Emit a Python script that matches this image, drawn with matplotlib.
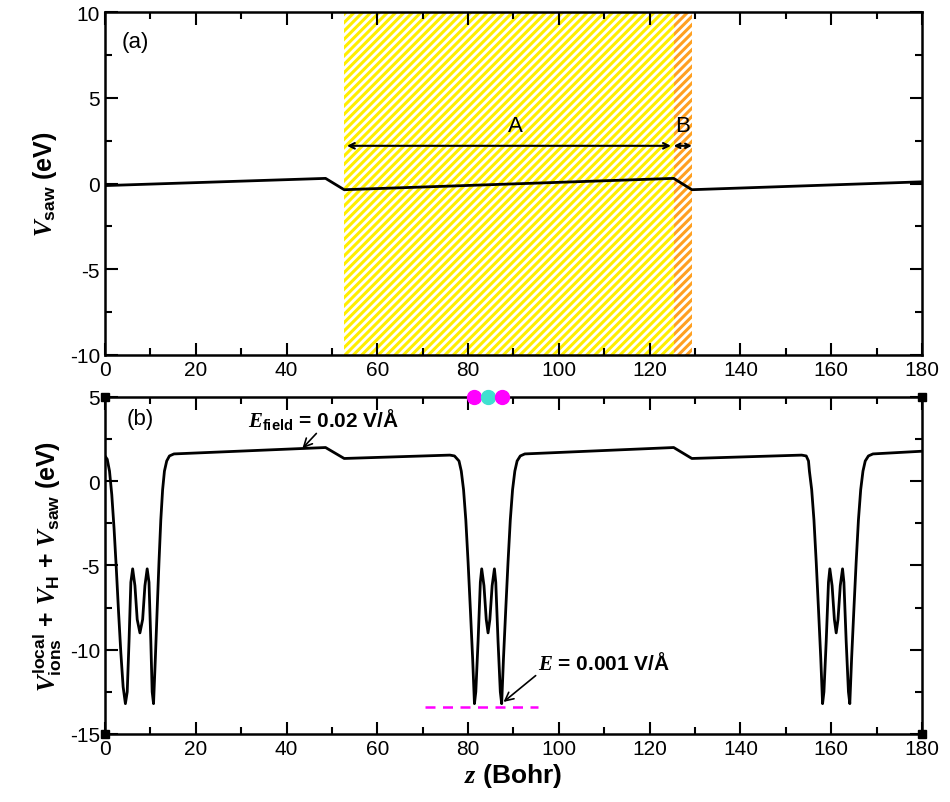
import numpy as np
import matplotlib
matplotlib.use('Agg')
import matplotlib.pyplot as plt
from matplotlib.ticker import MultipleLocator

plt.rcParams['font.family'] = ['Liberation Sans', 'DejaVu Sans']
plt.rcParams['mathtext.fontset'] = 'custom'
plt.rcParams['mathtext.rm'] = 'Liberation Sans:bold'
plt.rcParams['mathtext.bf'] = 'Liberation Sans:bold'
plt.rcParams['mathtext.it'] = 'Liberation Serif:italic:bold'
plt.rcParams['axes.unicode_minus'] = False
plt.rcParams['hatch.linewidth'] = 2.2

# ---- panel (a): sawtooth potential ----
saw_z = [0, 48.6, 52.7, 125.3, 129.3, 180]
saw_v = [-0.12, 0.30, -0.36, 0.30, -0.36, 0.10]

region_a = (52.7, 125.3)
region_b = (125.3, 129.3)

# ---- panel (b): total local potential ----
pot_z = [0, 0.5, 1, 1.5, 2, 2.5, 3, 3.5, 4, 4.5, 4.9, 5.3, 5.7, 6.1, 6.6, 7.1, 7.7,
         8.3, 8.8, 9.3, 9.7, 10.1, 10.4, 10.7, 11.1, 11.5, 11.9, 12.3, 12.7, 13.1,
         13.6, 14.2, 15.2,
         48.6, 52.7, 76, 77, 78, 78.5, 79, 79.5, 80, 80.5, 81, 81.4, 81.7, 82.2, 82.7,
         83.0, 83.5, 84.0, 84.4, 84.8, 85.3, 85.8, 86.1, 86.6, 87.1, 87.4, 87.8, 88.3,
         88.8, 89.3, 89.8, 90.3, 90.8, 91.5, 92.5,
         125.3, 129.3, 153.5, 154.5, 155, 155.2, 155.7, 156.2, 156.7, 157.2, 157.7,
         158.1, 158.4, 158.9, 159.4, 159.7, 160.2, 160.7, 161.1, 161.5, 162.0, 162.5,
         162.8, 163.3, 163.8, 164.1, 164.5, 165.0, 165.5, 166.0, 166.5, 167.0, 167.5,
         168.2, 169.2, 180]
pot_v = [1.5, 1.3, 0.6, -0.8, -2.8, -5.2, -7.8, -10.2, -12.2, -13.2, -12.5, -9.5, -6.0,
         -5.2, -6.2, -8.2, -9.0, -8.2, -6.2, -5.2, -6.0, -9.5, -12.5, -13.2, -10.5, -7.6,
         -4.8, -2.3, -0.5, 0.6, 1.2, 1.5, 1.62,
         2.0, 1.35, 1.55, 1.5, 1.2, 0.6, -0.5, -2.3, -4.8, -7.6, -10.5, -13.2, -12.5, -9.5,
         -6.0, -5.2, -6.2, -8.2, -9.0, -8.2, -6.2, -5.2, -6.0, -9.5, -12.5, -13.2, -10.5,
         -7.6, -4.8, -2.3, -0.5, 0.6, 1.2, 1.5, 1.62,
         2.0, 1.35, 1.55, 1.5, 1.2, 0.6, -0.5, -2.3, -4.8, -7.6, -10.5,
         -13.2, -12.5, -9.5, -6.0, -5.2, -6.2, -8.2, -9.0, -8.2, -6.2, -5.2,
         -6.0, -9.5, -12.5, -13.2, -10.5, -7.6, -4.8, -2.3, -0.5, 0.6, 1.2,
         1.5, 1.62, 1.78]

atom_z = [81.4, 84.4, 87.4]
atom_colors = ['#ff00ff', '#40e0d0', '#ff00ff']

level_z = [70.6, 95.5]
level_v = -13.4


def style_axes(ax, ymin, ymax, ymaj, ymin_step):
    ax.set_xlim(0, 180)
    ax.set_ylim(ymin, ymax)
    ax.xaxis.set_major_locator(MultipleLocator(20))
    ax.xaxis.set_minor_locator(MultipleLocator(10))
    ax.yaxis.set_major_locator(MultipleLocator(ymaj))
    ax.yaxis.set_minor_locator(MultipleLocator(ymin_step))
    ax.tick_params(which='both', direction='in', top=True, right=True,
                   width=1.5, labelsize=15)
    ax.tick_params(which='major', length=9)
    ax.tick_params(which='minor', length=5)
    for s in ax.spines.values():
        s.set_linewidth(1.8)


fig = plt.figure(figsize=(9.5, 8.03), dpi=100)
ax1 = fig.add_axes([0.1105, 0.5567, 0.86, 0.427])
ax2 = fig.add_axes([0.1105, 0.0847, 0.86, 0.4197])

# panel (a)
ax1.axvspan(*region_a, facecolor='white', edgecolor='#ffee00', hatch='////', lw=0, zorder=0)
ax1.axvspan(*region_b, facecolor='white', edgecolor='#ffa020', hatch='////', lw=0, zorder=0)
ax1.plot(saw_z, saw_v, color='black', lw=2)
ax1.annotate('', xy=(region_a[0], 2.2), xytext=(region_a[1], 2.2),
             arrowprops=dict(arrowstyle='<->', color='black', lw=1.5))
ax1.annotate('', xy=(region_b[0], 2.2), xytext=(region_b[1], 2.2),
             arrowprops=dict(arrowstyle='<->', color='black', lw=1.5,
                             shrinkA=0, shrinkB=0, mutation_scale=8))
ax1.text(90.4, 3.4, 'A', fontsize=16, ha='center', va='center')
ax1.text(127.3, 3.4, 'B', fontsize=16, ha='center', va='center')
ax1.text(3.7, 8.3, '(a)', fontsize=16, ha='left', va='center')
style_axes(ax1, -10, 10, 5, 2.5)
ax1.set_ylabel(r'$V_{\rm saw}$ (eV)', fontsize=18, fontweight='bold', labelpad=8)

# panel (b)
ax2.plot(pot_z, pot_v, color='black', lw=2)
ax2.plot(level_z, [level_v, level_v], color='#ff00ff', lw=1.8, ls=(0, (4, 3)))
for i, (z, c) in enumerate(zip(atom_z, atom_colors)):
    ax2.plot([z], [5], 'o', color=c, ms=10, clip_on=False, zorder=5 + i)
for cz in (0, 180):
    for cv in (-15, 5):
        ax2.plot([cz], [cv], 's', color='black', ms=6, clip_on=False, zorder=6)
ax2.annotate(r'$E_{\rm field}$ = 0.02 V/Å', xy=(43.5, 1.95), xytext=(31.5, 3.0),
             fontsize=15, fontweight='bold', ha='left', va='bottom',
             arrowprops=dict(arrowstyle='->', color='black', lw=1.2,
                             shrinkA=0, shrinkB=0, relpos=(0.47, 0.0)))
ax2.annotate(r'$E$ = 0.001 V/Å', xy=(87.8, -13.1), xytext=(95.5, -11.4),
             fontsize=15, fontweight='bold', ha='left', va='bottom',
             arrowprops=dict(arrowstyle='->', color='black', lw=1.2,
                             shrinkA=0, shrinkB=0, relpos=(0.0, 0.0)))
ax2.text(4.8, 3.7, '(b)', fontsize=16, ha='left', va='center')
style_axes(ax2, -15, 5, 5, 2.5)
ax2.set_ylabel(r'$V^{\rm local}_{\rm ions}$ + $V_{\rm H}$ + $V_{\rm saw}$ (eV)',
               fontsize=18, fontweight='bold', labelpad=4)
ax2.set_xlabel(r'$z$ (Bohr)', fontsize=19, fontweight='bold', labelpad=2)

fig.savefig('out.png', dpi=100)
